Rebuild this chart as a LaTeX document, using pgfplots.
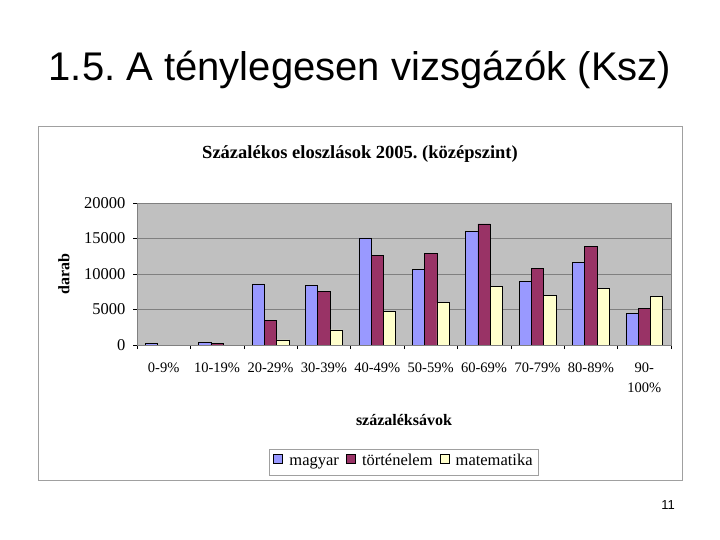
\documentclass[border=0pt]{standalone}
\usepackage{fontspec}
\setmainfont{Liberation Serif}
\newfontfamily\arial{Liberation Sans}
\usepackage{pgfplots}
\pgfplotsset{compat=1.18}
\definecolor{magyar}{RGB}{153,153,255}
\definecolor{tort}{RGB}{153,51,102}
\definecolor{mat}{RGB}{255,255,204}
\definecolor{plotbg}{RGB}{192,192,192}
\definecolor{gridc}{RGB}{128,128,128}
\definecolor{framec}{RGB}{160,160,160}
\frenchspacing

\begin{document}
\begin{tikzpicture}
\useasboundingbox (0,0) rectangle (720bp,540bp);
\fill[white] (0,0) rectangle (720bp,540bp);
% slide title and page number
\node[font=\arial\fontsize{40bp}{42bp}\selectfont] at (360bp,470bp) {1.5. A ténylegesen vizsgázók (Ksz)};
\node[font=\arial\fontsize{13bp}{15bp}\selectfont] at (668bp,35bp) {11};
% chart frame
\draw[framec,line width=0.8bp] (38bp,60bp) rectangle (682bp,414bp);

\begin{axis}[
    at={(137bp,195bp)}, anchor=south west,
    scale only axis,
    width=534bp, height=142bp,
    ybar=0pt, bar width=12.3bp,
    xmin=-0.5, xmax=9.5,
    ymin=0, ymax=20000,
    ytick={0,5000,10000,15000,20000},
    scaled y ticks=false,
    xtick={0,...,9},
    xticklabels={0-9\%,10-19\%,20-29\%,30-39\%,40-49\%,50-59\%,60-69\%,70-79\%,80-89\%,90-\\100\%},
    minor xtick={-0.5,0.5,...,9.5},
    major x tick style={draw=none},
    minor tick length=4bp,
    major tick length=4bp,
    tick align=outside,
    xtick pos=bottom, ytick pos=left,
    tick style={black,line width=0.5bp},
    /pgf/number format/assume math mode=true,
    /pgf/number format/1000 sep={},
    xticklabel style={align=center, anchor=north, yshift=-10bp,
        font=\fontsize{14.5bp}{20bp}\selectfont},
    yticklabel style={xshift=-4bp, font=\fontsize{16.5bp}{20bp}\selectfont},
    axis background/.style={fill=plotbg},
    axis line style={gridc},
    ymajorgrids, grid style={gridc,line width=0.6bp},
    title={\textbf{Százalékos eloszlások 2005. (középszint)}},
    title style={at={(0.4176,1.30)},anchor=center,font=\fontsize{18.5bp}{20bp}\selectfont},
    xlabel={\textbf{százaléksávok}},
    xlabel style={at={(0.5,-0.528)},anchor=center,font=\fontsize{16bp}{18bp}\selectfont},
    ylabel={\textbf{darab}},
    ylabel style={at={(-0.137,0.5)},anchor=center,font=\fontsize{16bp}{18bp}\selectfont},
    legend columns=3,
    legend style={at={(0.5,-0.824)},anchor=center,draw=framec,
        font=\fontsize{16.5bp}{18bp}\selectfont,
        nodes={text height=11bp, text depth=4bp},
        /tikz/every odd column/.append style={column sep=4.5bp},
        /tikz/every even column/.append style={column sep=5bp},
        inner xsep=4bp, inner ysep=3.5bp},
    legend image code/.code={\draw[#1,draw=black,line width=0.6bp] (0bp,-1bp) rectangle (9bp,8bp);},
    every axis plot/.append style={draw=black,line width=0.7bp},
]
\addplot[fill=magyar] coordinates {(0,200) (1,370) (2,8600) (3,8410) (4,15080) (5,10680) (6,15970) (7,8980) (8,11580) (9,4400)};
\addplot[fill=tort] coordinates {(0,0) (1,180) (2,3500) (3,7560) (4,12620) (5,12850) (6,17060) (7,10730) (8,13900) (9,5150)};
\addplot[fill=mat] coordinates {(0,0) (1,0) (2,710) (3,2130) (4,4770) (5,5960) (6,8230) (7,7040) (8,7940) (9,6810)};
\legend{magyar,történelem,matematika}
\end{axis}
\end{tikzpicture}
\end{document}
